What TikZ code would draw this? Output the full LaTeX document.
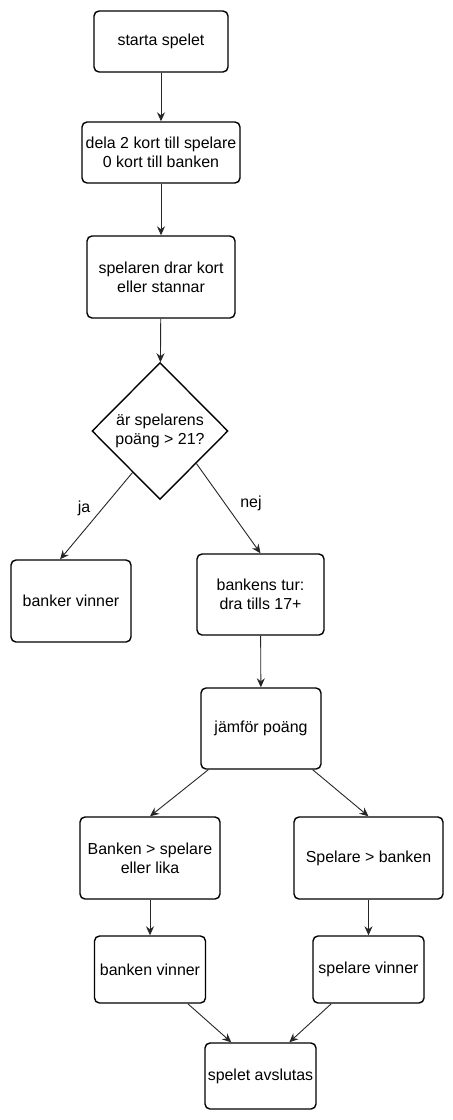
\documentclass[tikz,border=0pt]{standalone}
\usepackage{fontspec}
\setmainfont{Liberation Sans}
\usetikzlibrary{arrows.meta,shapes.geometric,calc}
\begin{document}
\begin{tikzpicture}[x=1bp,y=-1bp,
  font=\fontsize{16}{19.3}\selectfont,
  stepbox/.style={draw=black,line width=1.4bp,rounded corners=5bp,align=center,inner sep=0pt,fill=white},
  decbox/.style={draw=black,line width=1.4bp,diamond,aspect=1,align=center,inner sep=0pt,fill=white},
  conn/.style={draw=black!85,line width=0.9bp,-{Stealth[length=9bp,width=8bp,inset=3bp]}},
  lbl/.style={font=\fontsize{16}{19.3}\selectfont}]
\useasboundingbox (0,0) rectangle (453,1120);
\node[stepbox,minimum width=134bp,minimum height=61bp] (start) at (161,41.5) {starta spelet};
\node[stepbox,minimum width=158bp,minimum height=61bp] (deal) at (161,152.5) {dela 2 kort till spelare\\0 kort till banken};
\node[stepbox,minimum width=148bp,minimum height=82bp] (draw) at (161,277) {spelaren drar kort\\eller stannar};
\node[decbox,minimum width=136bp,minimum height=137bp] (dec) at (160,431) {är spelarens\\poäng > 21?};
\node[stepbox,minimum width=120bp,minimum height=82bp] (bv) at (71,601) {banker vinner};
\node[stepbox,minimum width=127bp,minimum height=81bp] (bt) at (260.5,594.5) {bankens tur:\\dra tills 17+};
\node[stepbox,minimum width=120bp,minimum height=81bp] (cmp) at (261,728.5) {jämför poäng};
\node[stepbox,minimum width=140bp,minimum height=82bp] (bs) at (150,858) {Banken > spelare\\eller lika};
\node[stepbox,minimum width=149bp,minimum height=82bp] (sb) at (368.5,858) {Spelare > banken};
\node[stepbox,minimum width=111bp,minimum height=67bp] (bw) at (150,969.5) {banken vinner};
\node[stepbox,minimum width=111bp,minimum height=67bp] (sw) at (368.5,969.5) {spelare vinner};
\node[stepbox,minimum width=111bp,minimum height=66bp] (end) at (260.5,1076) {spelet avslutas};

\draw[conn] (start) -- (deal);
\draw[conn] (deal) -- (draw);
\draw[conn] (draw) -- (dec);
\draw[conn] ($(dec.west)!0.6!(dec.south)$) -- ($(bv.north west)!0.82!(bv.north)$);
\draw[conn] ($(dec.east)!0.47!(dec.south)$) -- (bt.north);
\node[lbl] (ja) at (84,508) {ja};
\node[lbl] (nej) at (251,503) {nej};
\draw[conn] (bt) -- (cmp);
\draw[conn] ($(cmp.south west)+(8,0)$) -- (bs.north);
\draw[conn] ($(cmp.south east)+(-9,0)$) -- (sb.north);
\draw[conn] (bs) -- (bw);
\draw[conn] (sb) -- (sw);
\draw[conn] ($(bw.south west)+(94,0)$) -- ($(end.north west)+(27,0)$);
\draw[conn] ($(sw.south west)+(19,0)$) -- ($(end.north west)+(85,0)$);
\end{tikzpicture}
\end{document}
